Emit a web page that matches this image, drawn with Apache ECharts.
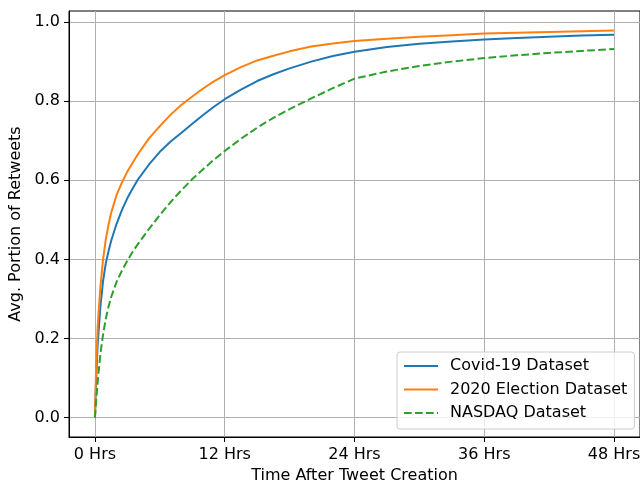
<!DOCTYPE html>
<html>
<head>
<meta charset="utf-8">
<script src="https://cdn.jsdelivr.net/npm/echarts@6/dist/echarts.min.js"></script>
<style>html,body{margin:0;padding:0;background:#fff}#c{width:640px;height:483px}</style>
</head>
<body>
<div id="c"></div>
<script>
// Hours after tweet creation
const hours = [0, 0.1, 0.25, 0.5, 0.75, 1, 1.25, 1.5, 2, 2.5, 3, 3.5, 4, 5, 6, 7, 8, 9, 10, 11, 12, 13.5, 15, 16.5, 18, 20, 22, 24, 27, 30, 33, 36, 39, 42, 45, 48];
const covid = [0, 0.09, 0.185, 0.28, 0.345, 0.39, 0.42, 0.447, 0.49, 0.525, 0.555, 0.58, 0.603, 0.64, 0.672, 0.698, 0.72, 0.743, 0.765, 0.786, 0.805, 0.829, 0.851, 0.868, 0.883, 0.9, 0.914, 0.925, 0.937, 0.945, 0.951, 0.956, 0.96, 0.963, 0.966, 0.968];
const election = [0, 0.12, 0.23, 0.33, 0.40, 0.45, 0.487, 0.518, 0.563, 0.595, 0.622, 0.645, 0.667, 0.706, 0.737, 0.766, 0.791, 0.812, 0.832, 0.85, 0.866, 0.886, 0.903, 0.915, 0.926, 0.938, 0.946, 0.952, 0.958, 0.963, 0.967, 0.971, 0.973, 0.975, 0.977, 0.979];
const nasdaq = [0, 0.04, 0.09, 0.16, 0.21, 0.25, 0.28, 0.305, 0.343, 0.372, 0.397, 0.42, 0.44, 0.477, 0.512, 0.545, 0.575, 0.603, 0.628, 0.652, 0.674, 0.705, 0.733, 0.758, 0.78, 0.807, 0.833, 0.857, 0.875, 0.889, 0.9, 0.909, 0.916, 0.922, 0.927, 0.932];
const xTicks = [0, 12, 24, 36, 48];
const yTicks = [0, 0.2, 0.4, 0.6, 0.8, 1.0];
const seriesNames = ['Covid-19 Dataset', '2020 Election Dataset', 'NASDAQ Dataset'];

const pair = (ys) => hours.map((h, i) => [h, ys[i]]);
const font = 'DejaVu Sans';
const chart = echarts.init(document.getElementById('c'), null, {renderer: 'canvas'});
chart.setOption({
  animation: false,
  backgroundColor: '#fff',
  textStyle: {fontFamily: font},
  grid: {left: 69, top: 11, right: 0, bottom: 46, show: true, borderColor: '#000', borderWidth: 1, containLabel: false, outerBoundsMode: 'none'},
  xAxis: {
    type: 'value', min: -2.4, max: 50.4,
    name: 'Time After Tweet Creation', nameLocation: 'middle', nameGap: 30,
    nameTextStyle: {fontFamily: font, fontSize: 16, color: '#000'},
    axisLine: {show: true, onZero: false, lineStyle: {color: '#000', width: 1}},
    axisTick: {show: true, length: 5, lineStyle: {color: '#000', width: 1}, customValues: xTicks},
    axisLabel: {customValues: xTicks, formatter: v => v + ' Hrs', fontFamily: font, fontSize: 16, color: '#000', margin: 10},
    splitLine: {show: true, lineStyle: {color: '#b0b0b0', width: 1}}
  },
  yAxis: {
    type: 'value', min: -0.049, max: 1.028,
    name: 'Avg. Portion of Retweets', nameLocation: 'middle', nameGap: 44,
    nameTextStyle: {fontFamily: font, fontSize: 16, color: '#000'},
    axisLine: {show: true, onZero: false, lineStyle: {color: '#000', width: 1}},
    axisTick: {show: true, length: 5, lineStyle: {color: '#000', width: 1}, customValues: yTicks},
    axisLabel: {customValues: yTicks, formatter: v => v.toFixed(1), fontFamily: font, fontSize: 16, color: '#000', margin: 9},
    splitLine: {show: true, lineStyle: {color: '#b0b0b0', width: 1}}
  },
  legend: {
    orient: 'vertical', left: 397, top: 352,
    itemWidth: 34, itemHeight: 16, itemGap: 7.5,
    padding: [6, 7, 8, 6],
    backgroundColor: 'rgba(255,255,255,0.8)', borderColor: '#cccccc', borderWidth: 1, borderRadius: 3,
    itemStyle: {opacity: 0},
    lineStyle: {opacity: 1},
    textStyle: {fontFamily: font, fontSize: 16, color: '#000', padding: [0, 0, 0, 7]},
    data: seriesNames
  },
  series: [
    {name: seriesNames[0], type: 'line', data: pair(covid), showSymbol: false, symbol: 'none', smooth: false, lineStyle: {color: '#1f77b4', width: 2}, itemStyle: {color: '#1f77b4'}, z: 3},
    {name: seriesNames[1], type: 'line', data: pair(election), showSymbol: false, symbol: 'none', smooth: false, lineStyle: {color: '#ff7f0e', width: 2}, itemStyle: {color: '#ff7f0e'}, z: 4},
    {name: seriesNames[2], type: 'line', data: pair(nasdaq), showSymbol: false, symbol: 'none', smooth: false, lineStyle: {color: '#2ca02c', width: 2, type: [7.7, 3.3]}, itemStyle: {color: '#2ca02c'}, z: 5}
  ]
});
</script>
</body>
</html>
